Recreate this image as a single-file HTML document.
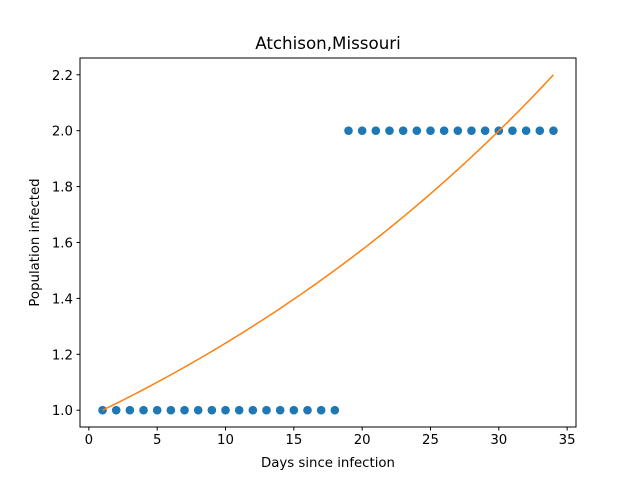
<!DOCTYPE html>
<html><head><meta charset="utf-8"><style>
body{margin:0;background:#fff;}
svg{display:block;font-family:"DejaVu Sans","Liberation Sans",sans-serif;}
</style></head><body>
<svg id="chart" width="640" height="480" viewBox="0 0 640 480">
<rect width="640" height="480" fill="#fff"/>
<text x="328" y="49" font-size="16.7" text-anchor="middle">Atchison,Missouri</text>
<g id="plot"></g>
<rect x="80" y="58" width="496" height="369" fill="none" stroke="#000" stroke-width="1"/>
<text x="328" y="467" font-size="13.3" text-anchor="middle">Days since infection</text>
<text transform="translate(39,242.5) rotate(-90)" font-size="13.3" text-anchor="middle">Population infected</text>
</svg>
<script>
const days=[1,2,3,4,5,6,7,8,9,10,11,12,13,14,15,16,17,18,19,20,21,22,23,24,25,26,27,28,29,30,31,32,33,34];
const infected=[1,1,1,1,1,1,1,1,1,1,1,1,1,1,1,1,1,1,2,2,2,2,2,2,2,2,2,2,2,2,2,2,2,2];
const fitA=0.9764;
const fitB=0.02389;
const xTicks=[0,5,10,15,20,25,30,35];
const yTicks=[1.0,1.2,1.4,1.6,1.8,2.0,2.2];
const NS="http://www.w3.org/2000/svg";
const L=80,R=576,T=58,B=427;
const xmin=-0.65,xmax=35.65,ymin=0.94,ymax=2.26;
const sx=v=>L+(v-xmin)/(xmax-xmin)*(R-L);
const sy=v=>B-(v-ymin)/(ymax-ymin)*(B-T);
const g=document.getElementById('plot');
function mk(t,a){const e=document.createElementNS(NS,t);for(const k in a)e.setAttribute(k,a[k]);g.appendChild(e);return e;}
xTicks.forEach(t=>{
  const l=mk('line',{x1:sx(t),x2:sx(t),y1:B,y2:B+3.5,stroke:'#000'});
  
  
  const tx=mk('text',{x:sx(t),y:B+17,'font-size':'13.3','text-anchor':'middle'});
  tx.textContent=t;
  
  
});
yTicks.forEach(t=>{
  const l=mk('line',{x1:L-3.5,x2:L,y1:sy(t),y2:sy(t),stroke:'#000'});
  
  
  const tx=mk('text',{x:L-7,y:sy(t)+5,'font-size':'13.3','text-anchor':'end'});
  tx.textContent=t.toFixed(1);
  
  
});
days.forEach((d,i)=>{
  const c=mk('circle',{cx:sx(d),cy:sy(infected[i]),r:4.3,fill:'#1f77b4'});
  
  
});
let pts=[];
const d0=days[0],d1=days[days.length-1];
for(let k=0;k<=100;k++){const d=d0+(d1-d0)*k/100;pts.push(sx(d).toFixed(2)+','+sy(fitA*Math.exp(fitB*d)).toFixed(2));}
const p=mk('polyline',{points:pts.join(' '),fill:'none',stroke:'#ff7f0e','stroke-width':1.5});


</script>
</body></html>
